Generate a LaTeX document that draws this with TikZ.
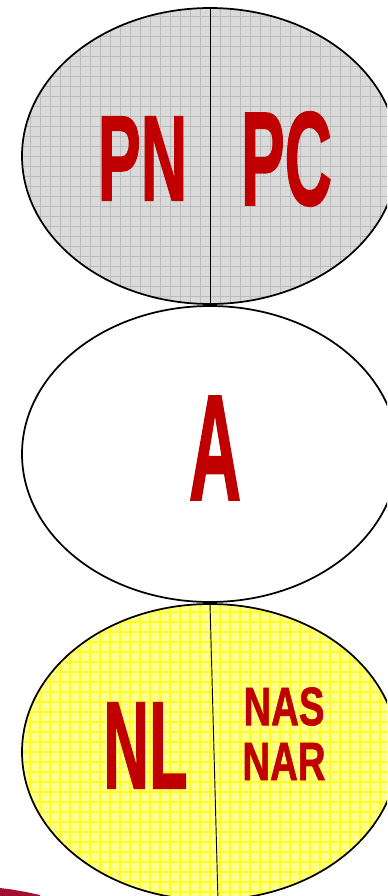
\documentclass[tikz,border=0pt]{standalone}
\usepackage{fontspec}
\setmainfont{Liberation Sans}
\newfontfamily\heavyfont[FakeBold=1.5]{Liberation Sans Bold}
\usepackage{graphicx}
\usepackage{tikz}
\usetikzlibrary{positioning, shapes.geometric}

\definecolor{labelred}{HTML}{C00000}
\definecolor{ovalgray}{HTML}{DADADA}
\definecolor{gridgray}{HTML}{BBBBBB}
\definecolor{ovalyellow}{HTML}{FFFF90}
\definecolor{gridyellow}{HTML}{FFFF20}
\definecolor{cornerred}{HTML}{A3102F}

\newcommand{\squash}[2]{\scalebox{#1}[1]{#2}}

\tikzset{
  oval/.style={draw=black, line width=1.3pt, ellipse, inner sep=0pt,
    minimum width=282pt, minimum height=222pt},
  grayoval/.style={oval, fill=ovalgray, path picture={
    \draw[gridgray, line width=0.6pt] (path picture bounding box.south west)
      grid[step=7.5pt] (path picture bounding box.north east);}},
  yellowoval/.style={oval, fill=ovalyellow, path picture={
    \draw[gridyellow, line width=0.9pt] (path picture bounding box.south west)
      grid[step=7.5pt] (path picture bounding box.north east);}},
  biglabel/.style={text=labelred, inner sep=0pt, font=\heavyfont}
}

\begin{document}
\begin{tikzpicture}[x=0.75pt, y=-0.75pt]
    \useasboundingbox (0,0) rectangle (387,896);
    \clip (0,0) rectangle (387,896);

    % three ovals
    \node[grayoval] (top) at (210,156) {};
    \node[oval, fill=white] (mid) at (210,454) {};
    \node[yellowoval] (bottom) at (210,752) {};

    % dividing lines
    \draw[line width=0.7pt] (top.north) -- (top.south);
    \draw[line width=0.7pt] (bottom.north) -- ([xshift=6pt]bottom.south);

    % labels
    \node[biglabel, font=\heavyfont\fontsize{91}{91}\selectfont] (pn) at (142.5,158.5) {\squash{0.53}{PN}};
    \node[biglabel, font=\heavyfont\fontsize{100}{100}\selectfont] (pc) at (286.5,159) {\squash{0.49}{PC}};
    \node[biglabel, font=\heavyfont\fontsize{113}{113}\selectfont] (a) at (215,448) {\squash{0.48}{A}};
    \node[biglabel, font=\heavyfont\fontsize{93}{93}\selectfont] (nl) at (145.5,745.5) {\squash{0.51}{NL}};
    \node[biglabel, font=\heavyfont\fontsize{40.5}{40.5}\selectfont] (nas) at (284,706.5) {\squash{0.71}{NAS}};
    \node[biglabel, font=\heavyfont\fontsize{40.5}{40.5}\selectfont] (nar) at (284,761.5) {\squash{0.71}{NAR}};

    % corner sliver
    \fill[cornerred] (0,888) -- (12,889.5) -- (26,892) -- (40,895) -- (40,896) -- (0,896) -- cycle;
\end{tikzpicture}
\end{document}
